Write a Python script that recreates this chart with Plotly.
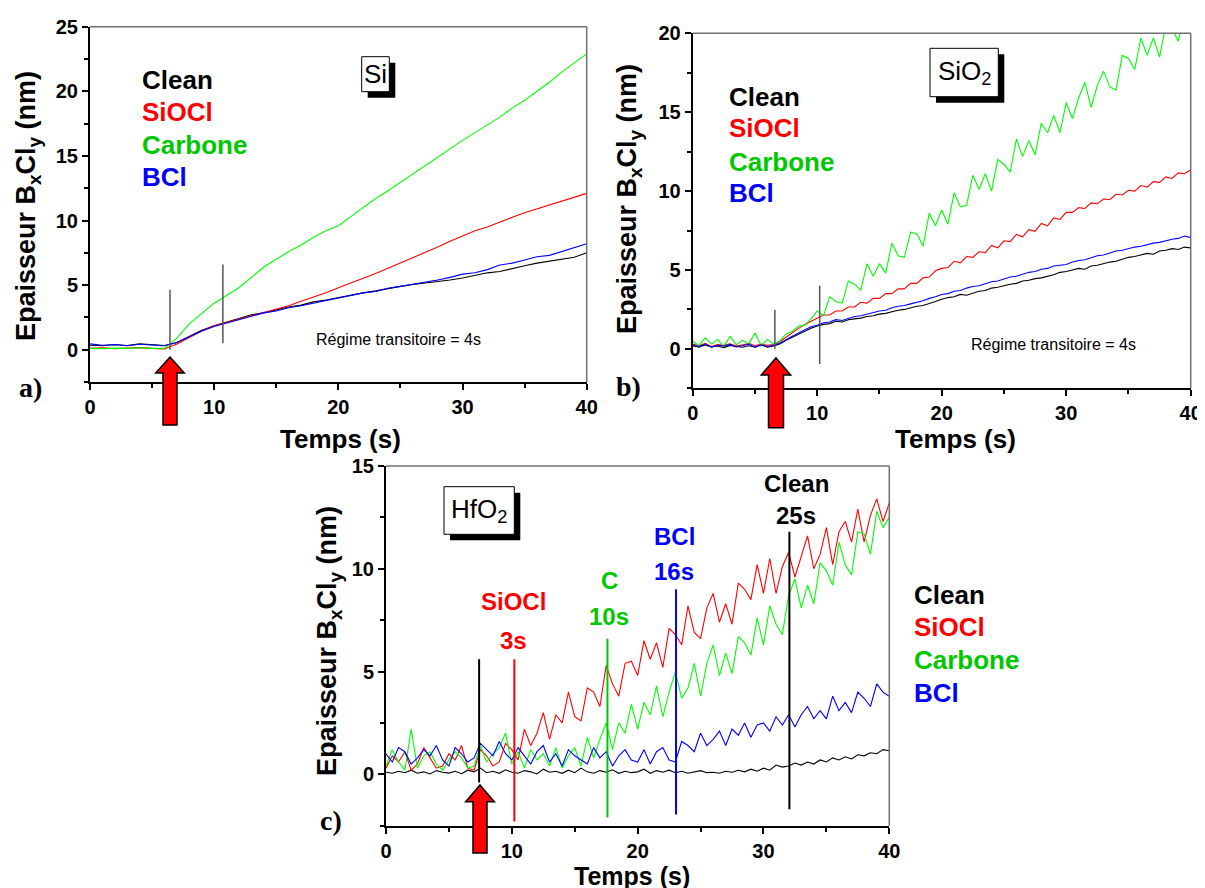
import plotly.graph_objects as go

W, H = 1205, 888
OFF = 8  # the page body adds an 8px margin; compensate so positions match the window

# ---------------- data ----------------
# Panel a (Si), t = 0..40 s step 1 s
t_a = [float(i) for i in range(41)]
clean_a = [0.35, 0.30, 0.38, 0.33, 0.45, 0.40, 0.32, 0.55, 1.05, 1.50, 1.85, 2.15, 2.40, 2.70, 2.85, 3.10, 3.30, 3.45,
           3.70, 3.85, 4.05, 4.20, 4.40, 4.55, 4.75, 4.90, 5.05, 5.15, 5.30, 5.40, 5.55, 5.75, 5.95, 6.05, 6.30, 6.50,
           6.70, 6.85, 7.05, 7.15, 7.50]
siocl_a = [0.10, 0.14, 0.08, 0.12, 0.16, 0.10, 0.05, 0.45, 0.95, 1.45, 1.85, 2.10, 2.35, 2.60, 2.85, 3.10, 3.40, 3.75,
           4.05, 4.40, 4.80, 5.15, 5.50, 5.90, 6.30, 6.70, 7.10, 7.55, 7.95, 8.40, 8.80, 9.20, 9.50, 9.90, 10.25,
           10.60, 10.90, 11.20, 11.55, 11.80, 12.10]
carbone_a = [0.10, 0.08, 0.12, 0.10, 0.15, 0.10, 0.12, 0.90, 2.00, 2.80, 3.60, 4.20, 4.80, 5.60, 6.40, 7.00, 7.60,
             8.10, 8.70, 9.20, 9.60, 10.30, 11.00, 11.70, 12.30, 12.95, 13.60, 14.30, 14.90, 15.60, 16.20, 16.80,
             17.40, 18.00, 18.70, 19.30, 20.00, 20.70, 21.50, 22.20, 22.90]
bcl_a = [0.45, 0.35, 0.40, 0.30, 0.42, 0.35, 0.30, 0.55, 1.00, 1.45, 1.80, 2.05, 2.35, 2.55, 2.85, 3.00, 3.25, 3.40,
         3.60, 3.80, 4.00, 4.15, 4.40, 4.50, 4.75, 4.90, 5.05, 5.25, 5.40, 5.60, 5.85, 5.95, 6.20, 6.55, 6.70, 6.95,
         7.20, 7.30, 7.60, 7.85, 8.20]

# Panel b (SiO2), t = 0..40 s step 0.5 s
t_b = [i * 0.5 for i in range(81)]
clean_b = [0.20, 0.10, 0.25, 0.12, 0.18, 0.08, 0.22, 0.15, 0.10, 0.20, 0.12, 0.25, 0.10, 0.18, 0.30, 0.55, 0.75, 0.95, 1.15, 1.30,
           1.45, 1.55, 1.60, 1.75, 1.70, 1.85, 1.90, 1.95, 2.05, 2.10, 2.20, 2.25, 2.35, 2.45, 2.50, 2.60, 2.70, 2.75, 2.90, 3.00,
           3.15, 3.25, 3.30, 3.45, 3.40, 3.55, 3.65, 3.70, 3.85, 3.90, 4.00, 4.10, 4.15, 4.30, 4.35, 4.45, 4.50, 4.60, 4.70, 4.85,
           4.90, 5.00, 5.10, 5.05, 5.25, 5.30, 5.40, 5.50, 5.55, 5.70, 5.80, 5.85, 5.95, 6.05, 6.00, 6.20, 6.25, 6.35, 6.30, 6.45,
           6.40]
siocl_b = [0.30, 0.20, 0.35, 0.15, 0.28, 0.22, 0.32, 0.18, 0.25, 0.35, 0.20, 0.30, 0.22, 0.28, 0.45, 0.75, 1.00, 1.30, 1.55, 1.75,
           1.90, 2.15, 2.15, 2.40, 2.40, 2.65, 2.65, 2.95, 2.90, 3.20, 3.20, 3.50, 3.50, 3.80, 3.80, 4.15, 4.15, 4.50, 4.55, 4.95,
           5.10, 5.15, 5.55, 5.45, 5.85, 5.80, 6.15, 6.10, 6.55, 6.40, 6.85, 6.80, 7.25, 7.10, 7.55, 7.45, 7.95, 7.80, 8.30, 8.20,
           8.65, 8.65, 8.95, 8.90, 9.25, 9.20, 9.50, 9.45, 9.80, 9.75, 10.05, 10.00, 10.35, 10.25, 10.60, 10.55, 10.90, 10.80, 11.15, 11.10,
           11.35]
carbone_b = [0.50, 0.20, 0.70, 0.30, 0.60, 0.15, 0.80, 0.25, 0.55, 0.30, 1.00, 0.20, 0.60, 0.30, 0.50, 0.95, 1.10, 1.45, 1.50, 1.90,
             2.4, 2.1, 3.3, 3.0, 2.9, 4.3, 4.1, 3.7, 5.4, 4.6, 5.4, 4.8, 6.7, 5.9, 5.8, 7.4, 7.3, 6.5, 8.6, 7.8,
             8.8, 7.9, 9.9, 9.0, 9.1, 11.0, 10.1, 11.1, 10.0, 12.0, 11.7, 11.2, 13.3, 12.2, 13.2, 12.3, 14.3, 13.7, 14.8, 13.7,
             15.6, 14.6, 15.9, 16.9, 15.3, 16.7, 17.6, 16.6, 16.4, 18.6, 18.4, 17.7, 19.7, 18.6, 19.7, 18.5, 20.5, 20.3, 19.5, 21.1,
             20.4]
bcl_b = [0.25, 0.15, 0.30, 0.10, 0.22, 0.18, 0.28, 0.12, 0.20, 0.30, 0.10, 0.25, 0.15, 0.22, 0.35, 0.60, 0.80, 1.00, 1.20, 1.40,
         1.50, 1.65, 1.70, 1.85, 1.80, 1.95, 2.05, 2.10, 2.20, 2.30, 2.40, 2.45, 2.60, 2.70, 2.75, 2.85, 2.95, 3.05, 3.20, 3.30,
         3.45, 3.50, 3.65, 3.70, 3.85, 3.95, 4.00, 4.15, 4.25, 4.30, 4.45, 4.55, 4.60, 4.75, 4.85, 4.90, 5.05, 5.10, 5.25, 5.30,
         5.35, 5.50, 5.60, 5.65, 5.80, 5.90, 5.95, 6.10, 6.20, 6.25, 6.35, 6.45, 6.50, 6.60, 6.70, 6.75, 6.85, 6.95, 7.00, 7.15,
         7.05]

# Panel c (HfO2), t = 0..40 s step 0.5 s
t_c = [i * 0.5 for i in range(81)]
clean_c = [0.10, 0.05, 0.15, 0.08, 0.20, 0.05, 0.12, 0.02, 0.18, 0.10, 0.06, 0.15, 0.03, 0.20, 0.12, 0.30, 0.08, 0.15, 0.05, 0.22,
           0.10, 0.05, 0.18, 0.12, 0.02, 0.25, 0.10, 0.15, 0.05, 0.20, 0.08, 0.30, 0.12, 0.05, 0.18, 0.10, 0.22, 0.05, 0.15, 0.08,
           0.12, 0.25, 0.05, 0.18, 0.10, 0.20, 0.08, 0.15, 0.05, 0.12, 0.18, 0.08, 0.10, 0.05, 0.15, 0.10, 0.20, 0.12, 0.25, 0.15,
           0.30, 0.20, 0.45, 0.35, 0.40, 0.55, 0.45, 0.60, 0.50, 0.70, 0.60, 0.80, 0.70, 0.85, 0.75, 0.95, 0.90, 1.05, 1.00, 1.20,
           1.15]
siocl_c = [0.3, 0.9, 0.6, 1.1, 0.2, 0.5, 1.3, 0.8, 0.3, 0.4, 1.0, 0.7, 1.4, 0.3, 0.2, 1.2, 0.9, 0.4, 0.6, 1.5,
           1.2, 0.7, 2.2, 1.4, 2.0, 3.0, 1.7, 2.9, 2.5, 4.0, 2.8, 2.6, 4.2, 4.0, 3.3, 5.3, 4.4, 3.8, 5.4, 5.5,
           4.8, 6.5, 5.6, 6.4, 5.2, 7.1, 6.8, 6.3, 8.2, 6.9, 6.6, 8.1, 8.8, 7.4, 8.3, 7.3, 9.3, 9.0, 8.5, 10.2,
           8.8, 10.5, 8.8, 10.1, 10.8, 9.6, 10.6, 11.6, 10.0, 10.7, 12.0, 10.2, 11.8, 12.3, 11.3, 12.9, 11.3, 12.6, 13.4, 12.3,
           13.2]
carbone_c = [0.4, 1.2, 0.6, 0.2, 2.2, 0.3, 0.9, 1.1, 0.5, 0.2, 0.7, 1.1, 0.8, 0.3, 0.4, 1.4, 0.6, 1.0, 1.3, 2.0,
             0.5, 1.1, 0.3, 1.2, 0.7, 1.0, 0.4, 1.3, 0.3, 0.9, 1.3, 0.4, 1.8, 0.8, 1.7, 2.5, 1.2, 2.5, 2.0, 3.4,
             2.2, 3.5, 2.9, 4.3, 2.8, 4.0, 5.0, 3.7, 4.2, 5.4, 3.8, 5.4, 6.3, 4.8, 5.9, 4.9, 6.7, 6.4, 5.8, 7.6,
             6.3, 8.2, 7.3, 6.8, 8.7, 9.5, 8.1, 9.2, 8.3, 10.3, 9.9, 9.2, 11.3, 10.2, 9.7, 11.8, 11.7, 10.7, 12.8, 12.0,
             12.5]
bcl_c = [1.0, 0.6, 1.3, 1.1, 0.5, 0.8, 1.2, 0.9, 1.4, 0.7, 0.4, 1.3, 1.0, 0.6, 0.8, 1.5, 1.2, 0.9, 1.6, 1.0,
         0.7, 1.3, 0.9, 0.5, 1.1, 1.4, 0.6, 1.0, 0.4, 1.2, 0.9, 0.7, 0.5, 1.3, 0.8, 1.1, 0.4, 0.9, 1.2, 0.7,
         0.6, 1.2, 0.5, 1.1, 1.3, 0.7, 0.6, 1.6, 1.4, 1.1, 2.0, 1.4, 1.7, 2.1, 1.4, 2.2, 1.9, 2.5, 1.8, 2.4,
         2.5, 2.1, 2.8, 2.4, 2.9, 2.3, 2.9, 3.3, 2.7, 3.1, 2.7, 3.8, 3.1, 3.5, 3.0, 4.0, 3.7, 3.3, 4.4, 4.0,
         3.8]

series_names = ["Clean", "SiOCl", "Carbone", "BCl"]
line_colors = ["#000000", "#ff0000", "#00ff00", "#0000ff"]
text_colors = ["#000000", "#ff0000", "#00c800", "#0000ff"]

x_ticks = [0, 10, 20, 30, 40]

# marker lines (time, y_low, y_high)
marks_a = [(6.44, 0.0, 4.64), (10.7, 0.5, 6.6)]
marks_b = [(6.6, 0.0, 2.47), (10.2, -0.96, 4.0)]
marks_c = [(7.4, -0.4, 5.6, "#000000"), (10.2, -2.3, 5.6, "#ff0000"), (17.6, -2.1, 6.6, "#00c800"),
           (23.05, -1.95, 9.0, "#0000ff"), (32.06, -1.7, 11.8, "#000000")]

# ---------------- figure ----------------
SANS = "Liberation Sans, Arial, sans-serif"
SERIF = "Liberation Serif, Times New Roman, serif"


def px(x):
    return (x - OFF) / W


def py(y):
    return 1 - (y - OFF) / H


fig = go.Figure()

panels = [
    ("x", "y", t_a, [clean_a, siocl_a, carbone_a, bcl_a]),
    ("x2", "y2", t_b, [clean_b, siocl_b, carbone_b, bcl_b]),
    ("x3", "y3", t_c, [clean_c, siocl_c, carbone_c, bcl_c]),
]
for xa, ya, tt, ys in panels:
    for name, col, yy in zip(series_names, line_colors, ys):
        fig.add_trace(go.Scatter(x=tt, y=yy, mode="lines", name=name, xaxis=xa, yaxis=ya,
                                 line=dict(color=col, width=1.1), showlegend=False, hoverinfo="skip"))

axis_common = dict(showline=True, linecolor="black", linewidth=2, ticks="outside", ticklen=6, tickwidth=2,
                   tickcolor="black", showgrid=False, zeroline=False, automargin=False,
                   tickfont=dict(family=SANS, size=20, color="black", weight="bold"))

xdom = {"a": [px(90), px(586.7)], "b": [px(692.7), px(1190.7)], "c": [px(386), px(889.3)]}
ydom = {"a": [py(382), py(26.7)], "b": [py(388.3), py(33.3)], "c": [py(825.7), py(466)]}
yrng = {"a": [-2.5, 25], "b": [-2.5, 20], "c": [-2.5, 15]}

layout_axes = {}
for i, k in enumerate(["a", "b", "c"]):
    sfx = "" if i == 0 else str(i + 1)
    layout_axes["xaxis" + sfx] = dict(axis_common, domain=xdom[k], anchor="y" + sfx, range=[0, 40],
                                      tickvals=x_ticks,
                                      minor=dict(ticks="outside", ticklen=4, tickwidth=1.5, tickcolor="black",
                                                 dtick=5, tick0=0, showgrid=False))
    layout_axes["yaxis" + sfx] = dict(axis_common, domain=ydom[k], anchor="x" + sfx, range=yrng[k],
                                      tick0=0, dtick=5,
                                      minor=dict(ticks="outside", ticklen=4, tickwidth=1.5, tickcolor="black",
                                                 dtick=2.5, tick0=0, showgrid=False))

fig.update_layout(width=W, height=H, autosize=False,
                  margin=dict(l=0, r=0, t=0, b=0, pad=0, autoexpand=False),
                  paper_bgcolor="white", plot_bgcolor="white", showlegend=False, **layout_axes)

shapes = []
# top/right frame lines
for sfx in ["", "2", "3"]:
    shapes.append(dict(type="line", xref="x%s domain" % sfx, yref="y%s domain" % sfx, x0=0, x1=1, y0=1, y1=1,
                       line=dict(color="#707070", width=1.5)))
    shapes.append(dict(type="line", xref="x%s domain" % sfx, yref="y%s domain" % sfx, x0=1, x1=1, y0=0, y1=1,
                       line=dict(color="#707070", width=1.5)))

for tx, y0, y1 in marks_a:
    shapes.append(dict(type="line", xref="x", yref="y", x0=tx, x1=tx, y0=y0, y1=y1,
                       line=dict(color="#555555", width=1.5)))
for tx, y0, y1 in marks_b:
    shapes.append(dict(type="line", xref="x2", yref="y2", x0=tx, x1=tx, y0=y0, y1=y1,
                       line=dict(color="#555555", width=1.5)))
for tx, y0, y1, col in marks_c:
    shapes.append(dict(type="line", xref="x3", yref="y3", x0=tx, x1=tx, y0=y0, y1=y1,
                       line=dict(color=col, width=2)))


def arrow(cx, tip, head_base, bottom, hw, sw):
    pts = [(cx, tip), (cx + hw, head_base), (cx + sw, head_base), (cx + sw, bottom), (cx - sw, bottom),
           (cx - sw, head_base), (cx - hw, head_base)]
    path = "M " + " L ".join("%.5f,%.5f" % (px(a), py(b)) for a, b in pts) + " Z"
    return dict(type="path", xref="paper", yref="paper", path=path, fillcolor="#ff0000",
                line=dict(color="black", width=1.5), layer="above")


shapes.append(arrow(170, 357, 373, 425, 14.3, 7))
shapes.append(arrow(776, 358, 375, 427.7, 14.7, 7.5))
shapes.append(arrow(480, 785, 801.7, 853, 14.3, 7))


def boxed(x0, y0, x1, y1, off=6):
    shapes.append(dict(type="rect", xref="paper", yref="paper", x0=px(x0 + off), x1=px(x1 + off),
                       y0=py(y1 + off), y1=py(y0 + off), fillcolor="black", line=dict(width=0), layer="above"))
    shapes.append(dict(type="rect", xref="paper", yref="paper", x0=px(x0), x1=px(x1),
                       y0=py(y1), y1=py(y0), fillcolor="white", line=dict(color="black", width=1), layer="above"))


boxed(361.7, 56.7, 389.3, 91.7)
boxed(930, 48.3, 998.3, 96.7)
boxed(444, 486.7, 514.3, 534.3)

fig.update_layout(shapes=shapes)

ann = []


def txt(x, y, s, size, color="black", bold=True, family=SANS, angle=0, xanchor="center"):
    ann.append(dict(x=px(x), y=py(y), xref="paper", yref="paper", text=("<b>%s</b>" % s) if bold else s,
                    showarrow=False, xanchor=xanchor, yanchor="middle", textangle=angle,
                    font=dict(family=family, size=size, color=color)))


# legends
for (lx, ys) in [(140, [80, 112, 145, 177]), (726.7, [96.7, 128.3, 161.7, 193.3]), (912, [595, 626.7, 660, 693.3])]:
    for name, col, yy in zip(series_names, text_colors, ys):
        txt(lx, yy, name, 26, col, xanchor="left")

# material labels
txt(375.5, 74.2, "Si", 26, bold=False)
txt(964.2, 72.5, "SiO<sub>2</sub>", 26, bold=False)
txt(479.2, 510.5, "HfO<sub>2</sub>", 26, bold=False)

# transient text
txt(398.5, 339, "Régime transitoire = 4s", 16, bold=False)
txt(1053.3, 345, "Régime transitoire = 4s", 16, bold=False)

# panel letters
txt(30, 387, "a)", 28, family=SERIF)
txt(629, 386, "b)", 28, family=SERIF)
txt(331, 820, "c)", 28, family=SERIF)

# axis titles
txt(340, 439, "Temps (s)", 26)
txt(955, 439, "Temps (s)", 26)
txt(632, 876, "Temps (s)", 25)
ytitle = "Epaisseur B<sub>x</sub>Cl<sub>y</sub> (nm)"
txt(28, 206, ytitle, 27, angle=-90)
txt(629, 199, ytitle, 27, angle=-90)
txt(329, 641, ytitle, 27, angle=-90)

# panel c onset annotations
txt(513.3, 601.7, "SiOCl", 24, "#ff0000")
txt(513.3, 640, "3s", 24, "#ff0000")
txt(609, 580, "C", 24, "#00c800")
txt(609, 616.7, "10s", 24, "#00c800")
txt(674, 536.7, "BCl", 24, "#0000ff")
txt(674, 571.7, "16s", 24, "#0000ff")
txt(796, 483.3, "Clean", 24, "#000000")
txt(796, 515.7, "25s", 24, "#000000")

fig.update_layout(annotations=ann)

fig.write_html("out.html")
